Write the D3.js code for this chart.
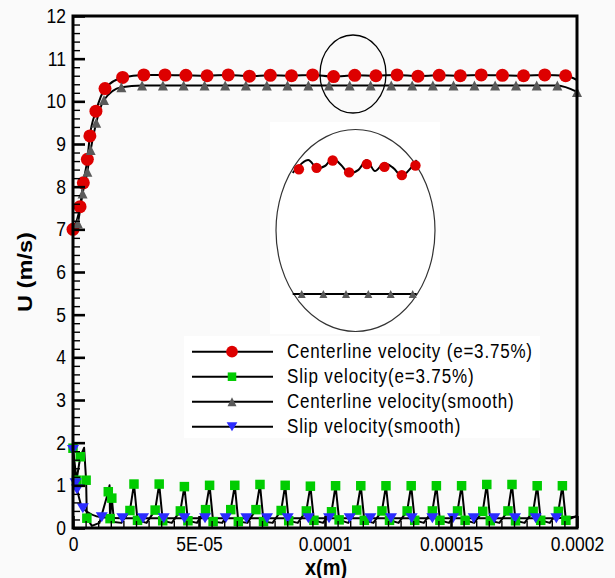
<!DOCTYPE html>
<html>
<head>
<meta charset="utf-8">
<script src="https://cdn.jsdelivr.net/npm/d3@7"></script>
<style>
  html, body { margin: 0; padding: 0; background: #fafafa; }
  svg { display: block; font-family: "Liberation Sans", Arial, sans-serif; }
</style>
</head>
<body>
<svg id="chart" width="615" height="578"></svg>
<script>
// ---- data (x in micrometres, converted to metres for the axis; U in m/s) ----

// Centerline velocity, rough channel (e=3.75%)
const centerRoughX = [0, 2.8, 4.1, 5.7, 6.7, 9.1, 12.7, 19.7, 28.1, 36.5, 44.8, 53.2, 61.6, 70.0, 78.3, 86.7, 95.1, 103.4, 111.8, 120.2, 128.6, 136.9, 145.3, 153.7, 162.0, 170.4, 178.8, 187.2, 195.5];
const centerRoughU = [7.00, 7.53, 8.09, 8.64, 9.19, 9.77, 10.30, 10.56, 10.62, 10.62, 10.61, 10.60, 10.62, 10.59, 10.61, 10.60, 10.62, 10.58, 10.61, 10.60, 10.62, 10.59, 10.61, 10.60, 10.62, 10.61, 10.60, 10.62, 10.60];
const centerRoughLineX = [200];
const centerRoughLineU = [10.50];

// Slip velocity, rough channel (e=3.75%)
const slipRoughX = [0, 1.4, 2.9, 5.2, 5.5, 14.0, 14.7, 15.4,
  22.6, 24.2, 25.6, 32.6, 34.2, 35.6, 42.6, 44.2, 45.6, 52.6, 54.2, 55.6,
  62.6, 64.2, 65.6, 72.6, 74.2, 75.6, 82.6, 84.2, 85.6, 92.6, 94.2, 95.6,
  102.6, 104.2, 105.6, 112.6, 114.2, 115.6, 122.6, 124.2, 125.6, 132.6, 134.2, 135.6,
  142.6, 144.2, 145.6, 152.6, 154.2, 155.6, 162.6, 164.2, 165.6, 172.6, 174.2, 175.6,
  182.6, 184.2, 185.6, 192.6, 194.2, 195.6];
const slipRoughU = [1.87, 1.12, 1.67, 1.12, 0.23, 0.85, 0.22, 0.70,
  0.41, 1.03, 0.18, 0.42, 1.03, 0.17, 0.40, 0.97, 0.17, 0.43, 1.00, 0.15,
  0.43, 1.00, 0.15, 0.43, 1.02, 0.15, 0.41, 1.00, 0.17, 0.40, 0.98, 0.18,
  0.38, 0.99, 0.19, 0.42, 0.99, 0.18, 0.40, 0.99, 0.18, 0.40, 0.99, 0.18,
  0.40, 0.99, 0.18, 0.40, 0.99, 0.18, 0.39, 1.02, 0.17, 0.40, 1.02, 0.17,
  0.39, 0.99, 0.18, 0.39, 0.99, 0.18];
const slipRoughLineX = [4.4, 7.5, 10.5, 14.5, 16.3, 19.2, 29.2, 39.2, 49.2, 59.2, 69.2, 79.2, 89.2, 99.2, 109.2, 119.2, 129.2, 139.2, 149.2, 159.2, 169.2, 179.2, 189.2, 200];
const slipRoughLineU = [1.88, 0.05, 0.12, 1.00, 0.14, 0.12, 0.12, 0.12, 0.12, 0.12, 0.12, 0.12, 0.12, 0.12, 0.12, 0.12, 0.12, 0.12, 0.12, 0.12, 0.12, 0.12, 0.12, 0.28];

// Centerline velocity, smooth channel
const centerSmoothX = [1.9, 3.8, 5.7, 7.0, 9.2, 12.3, 19.2, 27.4, 35.7, 43.9, 52.2, 60.4, 68.6, 76.9, 85.1, 93.4, 101.6, 109.8, 118.1, 126.3, 134.6, 142.8, 151.0, 159.3, 167.5, 175.8, 184.0, 192.2, 200.0];
const centerSmoothU = [7.14, 7.84, 8.35, 8.86, 9.50, 10.03, 10.33, 10.37, 10.37, 10.37, 10.37, 10.37, 10.37, 10.37, 10.37, 10.37, 10.37, 10.37, 10.37, 10.37, 10.37, 10.37, 10.37, 10.37, 10.37, 10.37, 10.37, 10.37, 10.22];
const centerSmoothLineX = [0];
const centerSmoothLineU = [6.90];

// Slip velocity, smooth channel
const slipSmoothX = [0, 1.0, 1.6, 3.9, 11.4, 19.6, 27.8, 36.0, 44.2, 52.4, 60.6, 68.8, 77.0, 85.2, 93.4, 101.6, 109.8, 118.0, 126.2, 134.4, 142.6, 150.8, 159.0, 167.2, 175.4, 183.6, 191.8];
const slipSmoothU = [1.83, 1.05, 0.90, 0.46, 0.25, 0.23, 0.23, 0.23, 0.23, 0.23, 0.23, 0.23, 0.23, 0.23, 0.23, 0.23, 0.23, 0.23, 0.23, 0.23, 0.23, 0.23, 0.23, 0.23, 0.23, 0.23, 0.23];
const slipSmoothLineX = [200];
const slipSmoothLineU = [0.27];

// Magnified plateau (inset)
const insetRoughX = [90.0, 95.7, 100.9, 106.2, 111.9, 117.6, 123.2, 127.6];
const insetRoughU = [10.633, 10.636, 10.652, 10.626, 10.644, 10.638, 10.620, 10.641];
const insetRoughLineX = [88.0, 93.0, 95.7, 98.4, 100.9, 103.6, 106.3, 109.1, 111.9, 114.5, 117.5, 120.4, 123.2, 125.5, 128.0];
const insetRoughLineU = [10.625, 10.653, 10.636, 10.640, 10.657, 10.642, 10.624, 10.631, 10.653, 10.629, 10.646, 10.636, 10.618, 10.631, 10.653];
const insetSmoothX = [90.9, 97.9, 105.2, 112.4, 119.6, 126.7];
const insetSmoothU = [10.36, 10.36, 10.36, 10.36, 10.36, 10.36];
const insetSmoothLineX = [88.0, 128.0];
const insetSmoothLineU = [10.36, 10.36];

// Axis ticks
const xTickValues = [0, 5e-5, 1e-4, 1.5e-4, 2e-4];
const xTickLabels = ["0", "5E-05", "0.0001", "0.00015", "0.0002"];
const yTickValues = [0, 1, 2, 3, 4, 5, 6, 7, 8, 9, 10, 11, 12];

const seriesNames = [
  "Centerline velocity (e=3.75%)",
  "Slip velocity(e=3.75%)",
  "Centerline velocity(smooth)",
  "Slip velocity(smooth)"
];

// ---- layout ----
const svg = d3.select("#chart");
const plot = { left: 73, top: 16, right: 577, bottom: 528 };
const UM = 1e-6;
const x = d3.scaleLinear().domain([0, 2e-4]).range([plot.left, plot.right]);
const y = d3.scaleLinear().domain([0, 12]).range([plot.bottom, plot.top]);
const TEXT_STRETCH = 1.18;

const colors = { red: "#dd0000", green: "#00cc00", grey: "#5a5a5a", blue: "#2b2bff" };

const pts = (xs, us) => xs.map((v, i) => ({ x: v * UM, u: us[i] }));
const sortByX = arr => arr.slice().sort((a, b) => a.x - b.x);

// ---- marker shapes ----
function triUp(w, h) { return `M0,${-h / 2}L${w / 2},${h / 2}L${-w / 2},${h / 2}Z`; }
function triDown(w, h) { return `M0,${h / 2}L${w / 2},${-h / 2}L${-w / 2},${-h / 2}Z`; }
function drawMarker(g, kind, cx, cy, scale) {
  const s = scale || 1;
  if (kind === "circle") {
    g.append("circle").attr("cx", cx).attr("cy", cy).attr("r", 6.5 * s).attr("fill", colors.red);
  } else if (kind === "square") {
    const a = 9.5 * s;
    g.append("rect").attr("x", cx - a / 2).attr("y", cy - a / 2).attr("width", a).attr("height", a).attr("fill", colors.green);
  } else if (kind === "tri") {
    g.append("path").attr("d", triUp(10 * s, 10 * s)).attr("transform", `translate(${cx},${cy})`).attr("fill", colors.grey);
  } else if (kind === "tridown") {
    g.append("path").attr("d", triDown(12 * s, 10 * s)).attr("transform", `translate(${cx},${cy})`).attr("fill", colors.blue);
  }
}

// ---- inset and legend backgrounds ----
svg.append("rect").attr("x", 270).attr("y", 122).attr("width", 170).attr("height", 212).attr("fill", "#ffffff");
svg.append("rect").attr("x", 184).attr("y", 336).attr("width", 356).attr("height", 102).attr("fill", "#ffffff");

// ---- curves ----
const series = [
  { key: "centerRough", marks: pts(centerRoughX, centerRoughU), extra: pts(centerRoughLineX, centerRoughLineU), kind: "circle", curve: d3.curveMonotoneX },
  { key: "slipRough", marks: pts(slipRoughX, slipRoughU), extra: pts(slipRoughLineX, slipRoughLineU), kind: "square", curve: d3.curveLinear },
  { key: "centerSmooth", marks: pts(centerSmoothX, centerSmoothU), extra: pts(centerSmoothLineX, centerSmoothLineU), kind: "tri", curve: d3.curveMonotoneX },
  { key: "slipSmooth", marks: pts(slipSmoothX, slipSmoothU), extra: pts(slipSmoothLineX, slipSmoothLineU), kind: "tridown", curve: d3.curveMonotoneX }
];

const lineGen = d3.line().x(d => x(d.x)).y(d => y(d.u));
const linesG = svg.append("g").attr("fill", "none").attr("stroke", "#000").attr("stroke-width", 2).attr("stroke-linejoin", "round");
series.forEach(s => {
  const all = sortByX(s.marks.concat(s.extra));
  linesG.append("path").attr("d", lineGen.curve(s.curve)(all));
});

const marksG = svg.append("g");
series.forEach(s => {
  s.marks.forEach(d => drawMarker(marksG, s.kind, x(d.x), y(d.u)));
});

// ---- axes ----
const axesG = svg.append("g");

const yMinor = d3.range(0, 12.001, 0.2).filter(v => Math.abs(v - Math.round(v)) > 1e-6);
const xMinor = d3.range(0, 2.0001e-4, 5e-6).filter(v => xTickValues.every(t => Math.abs(t - v) > 1e-9));

const yAxisMinor = axesG.append("g").attr("transform", `translate(${plot.left},0)`)
  .call(d3.axisLeft(y).tickValues(yMinor).tickSize(-7).tickFormat(""));
const yAxisMajor = axesG.append("g").attr("transform", `translate(${plot.left},0)`)
  .call(d3.axisLeft(y).tickValues(yTickValues).tickSize(-12).tickPadding(7).tickFormat(d3.format("d")));
const xAxisMinor = axesG.append("g").attr("transform", `translate(0,${plot.bottom})`)
  .call(d3.axisBottom(x).tickValues(xMinor).tickSize(-7).tickFormat(""));
const xAxisMajor = axesG.append("g").attr("transform", `translate(0,${plot.bottom})`)
  .call(d3.axisBottom(x).tickValues(xTickValues).tickSize(-12).tickPadding(7).tickFormat((d, i) => xTickLabels[i]));

[yAxisMinor, yAxisMajor, xAxisMinor, xAxisMajor].forEach(g => {
  g.select(".domain").remove();
  g.selectAll(".tick line").attr("stroke", "#000");
});
yAxisMinor.selectAll(".tick line").attr("stroke-width", 1.4);
xAxisMinor.selectAll(".tick line").attr("stroke-width", 1.4);
yAxisMajor.selectAll(".tick line").attr("stroke-width", 2.6);
xAxisMajor.selectAll(".tick line").attr("stroke-width", 2.6);

[yAxisMajor, xAxisMajor].forEach(g => {
  g.selectAll(".tick text")
    .attr("font-family", "'Liberation Sans', Arial, sans-serif")
    .attr("font-size", 17.5)
    .attr("fill", "#000")
    .attr("transform", `scale(1,${TEXT_STRETCH})`);
});

// frame
svg.append("rect")
  .attr("x", plot.left).attr("y", plot.top)
  .attr("width", plot.right - plot.left).attr("height", plot.bottom - plot.top)
  .attr("fill", "none").attr("stroke", "#000").attr("stroke-width", 3);

// axis titles
svg.append("text")
  .attr("transform", `translate(32,272) rotate(-90) scale(${TEXT_STRETCH},1)`)
  .attr("text-anchor", "middle").attr("font-weight", "bold").attr("font-size", 20)
  .text("U (m/s)");
svg.append("text")
  .attr("transform", `translate(326,575) scale(1,1.1)`)
  .attr("text-anchor", "middle").attr("font-weight", "bold").attr("font-size", 20)
  .text("x(m)");

// ---- highlight ellipse on the plateau ----
svg.append("ellipse").attr("cx", 353).attr("cy", 74).attr("rx", 33).attr("ry", 39)
  .attr("fill", "none").attr("stroke", "#000").attr("stroke-width", 1.3);

// ---- inset: magnified plateau ----
const inset = svg.append("g");
inset.append("ellipse").attr("cx", 355.5).attr("cy", 230.5).attr("rx", 79.5).attr("ry", 101)
  .attr("fill", "none").attr("stroke", "#333").attr("stroke-width", 1.2);
const ix = d3.scaleLinear().domain([88 * UM, 128 * UM]).range([292.7, 416.7]);
const iy = d3.scaleLinear().domain([10.36, 10.64]).range([294, 166]);
const insetLine = d3.line().x(d => ix(d.x)).y(d => iy(d.u));
inset.append("path")
  .attr("d", insetLine.curve(d3.curveCatmullRom)(pts(insetRoughLineX, insetRoughLineU)))
  .attr("fill", "none").attr("stroke", "#000").attr("stroke-width", 2);
inset.append("path")
  .attr("d", insetLine.curve(d3.curveLinear)(pts(insetSmoothLineX, insetSmoothLineU)))
  .attr("fill", "none").attr("stroke", "#000").attr("stroke-width", 2);
pts(insetRoughX, insetRoughU).forEach(d => drawMarker(inset, "circle", ix(d.x), iy(d.u), 0.8));
pts(insetSmoothX, insetSmoothU).forEach(d => drawMarker(inset, "tri", ix(d.x), iy(d.u), 0.8));

// ---- legend ----
const legend = svg.append("g");
const kinds = ["circle", "square", "tri", "tridown"];
const legendTextWidths = [245, 186.6, 226.6, 173.3];
seriesNames.forEach((name, i) => {
  const cy = 351.7 + i * 25;
  legend.append("line").attr("x1", 192).attr("x2", 273).attr("y1", cy).attr("y2", cy)
    .attr("stroke", "#000").attr("stroke-width", 2);
  drawMarker(legend, kinds[i], 232, cy, 0.9);
  legend.append("text")
    .attr("transform", `translate(287,${cy + 6.6}) scale(1,${TEXT_STRETCH})`)
    .attr("font-size", 17)
    .attr("textLength", legendTextWidths[i])
    .attr("lengthAdjust", "spacing")
    .text(name);
});
</script>
</body>
</html>
